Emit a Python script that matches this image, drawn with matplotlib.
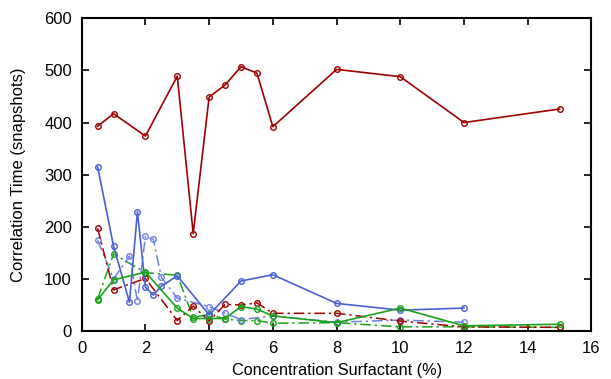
import matplotlib
matplotlib.use("Agg")
import matplotlib.pyplot as plt

plt.rcParams['font.family'] = ['Liberation Sans', 'DejaVu Sans']

# Series data (Concentration %, Correlation time)
red_solid_x = [0.5, 1, 2, 3, 3.5, 4, 4.5, 5, 5.5, 6, 8, 10, 12, 15]
red_solid_y = [393, 417, 374, 489, 187, 449, 472, 507, 495, 392, 502, 488, 400, 426]

red_dash_x = [0.5, 1, 2, 3, 3.5, 4, 4.5, 5, 5.5, 6, 8, 10, 12, 15]
red_dash_y = [197, 79, 101, 20, 48, 19, 51, 50, 54, 34, 34, 19, 8, 7]

blue_solid_x = [0.5, 1, 1.5, 1.75, 2, 2.25, 2.5, 3, 4, 5, 6, 8, 10, 12]
blue_solid_y = [315, 163, 55, 229, 84, 69, 86, 106, 31, 96, 108, 53, 40, 44]

blue_dash_x = [0.5, 1, 1.5, 1.75, 2, 2.25, 2.5, 3, 4, 4.5, 5, 6, 8, 10, 12]
blue_dash_y = [174, 100, 144, 57, 182, 176, 103, 63, 47, 34, 22, 29, 17, 21, 17]

green_solid_x = [0.5, 1, 2, 3, 3.5, 4, 4.5, 5, 5.5, 6, 8, 10, 12, 15]
green_solid_y = [60, 98, 113, 44, 24, 24, 24, 47, 42, 29, 16, 44, 10, 13]

green_dash_x = [0.5, 1, 2, 3, 3.5, 4, 4.5, 5, 5.5, 6, 8, 10, 12, 15]
green_dash_y = [62, 148, 112, 107, 26, 32, 23, 20, 20, 15, 16, 8, 8, 7]

x_ticks = [0, 2, 4, 6, 8, 10, 12, 14, 16]
y_ticks = [0, 100, 200, 300, 400, 500, 600]

dark_red = '#a00000'
blue = '#4a5fd6'
light_blue = '#6f80e6'
green = '#1aa31a'
dashdot = (0, (7, 2.5, 1.5, 2.5))

fig = plt.figure(figsize=(6.11, 3.79), dpi=100)
ax = fig.add_axes([0.1337, 0.1266, 0.8343, 0.8251])

mk = dict(marker='o', markersize=4, markerfacecolor='none', markeredgewidth=1.0)

ax.plot(green_dash_x, green_dash_y, color=green, lw=1.1, linestyle=dashdot, markeredgecolor=green, **mk)
ax.plot(blue_dash_x, blue_dash_y, color=light_blue, lw=1.1, linestyle=dashdot, markeredgecolor=light_blue, **mk)
ax.plot(red_dash_x, red_dash_y, color=dark_red, lw=1.1, linestyle=dashdot, markeredgecolor=dark_red, **mk)
ax.plot(blue_solid_x, blue_solid_y, color=blue, lw=1.2, markeredgecolor=blue, **mk)
ax.plot(green_solid_x, green_solid_y, color=green, lw=1.2, markeredgecolor=green, **mk)
ax.plot(red_solid_x, red_solid_y, color=dark_red, lw=1.2, markeredgecolor=dark_red, **mk)

ax.set_xlim(0, 16)
ax.set_ylim(0, 600)
ax.set_xticks(x_ticks)
ax.set_yticks(y_ticks)
ax.tick_params(direction='in', length=5, width=1.2, top=True, right=True,
               labelsize=12, colors='black')
ax.tick_params(axis='x', pad=7.5)
ax.tick_params(axis='y', pad=7)
for s in ax.spines.values():
    s.set_linewidth(1.5)
ax.set_xlabel('Concentration Surfactant (%)', fontsize=11.7, labelpad=4.5)
ax.set_ylabel('Correlation Time (snapshots)', fontsize=12, labelpad=13)

fig.savefig('out.png', dpi=100)
